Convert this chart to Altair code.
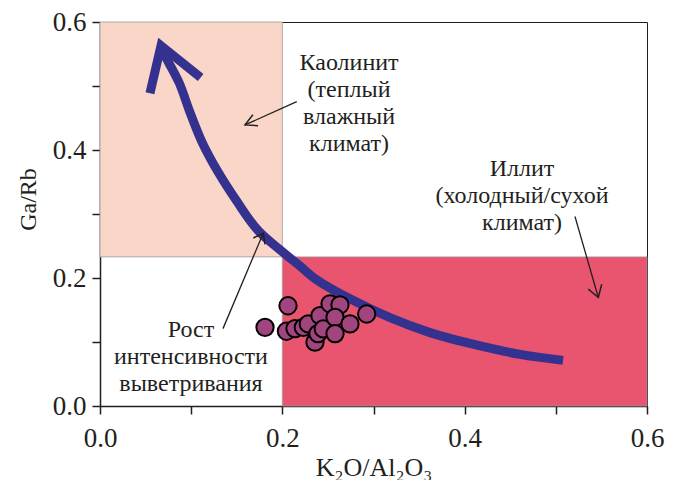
import altair as alt
import pandas as pd

FONT = "Liberation Serif"
TXT = "#231F20"

# Region boxes (data units)
reg_x = [0.0, 0.2]
reg_x2 = [0.2, 0.6]
reg_y = [0.233, 0.0]
reg_y2 = [0.6, 0.233]
reg_name = ["kaolinite", "illite"]
reg_color = ["#F9D6C8", "#E9546F"]

# Samples
pt_x = [0.1810, 0.2062, 0.2045, 0.2139, 0.2230, 0.2285, 0.2358, 0.2391, 0.2413,
        0.2449, 0.2523, 0.2632, 0.2578, 0.2742, 0.2578, 0.2925]
pt_y = [0.1229, 0.1566, 0.1168, 0.1209, 0.1229, 0.1282, 0.0997, 0.1132, 0.1411,
        0.1204, 0.1597, 0.1581, 0.1384, 0.1282, 0.1132, 0.1437]

# Weathering trend curve
cv_x = [0.5079, 0.4607, 0.4058, 0.3620, 0.3181, 0.2742, 0.2380, 0.2194, 0.2007,
        0.1733, 0.1503, 0.1294, 0.1119, 0.0987, 0.0867, 0.0735, 0.0691]
cv_y = [0.0713, 0.0806, 0.0977, 0.1147, 0.1380, 0.1674, 0.1969, 0.2186, 0.2403,
        0.2744, 0.3194, 0.3659, 0.4124, 0.4589, 0.5054, 0.5411, 0.5519]

# Big arrow head (left arm, tip, right arm)
ah_x = [0.0548, 0.0669, 0.1104]
ah_y = [0.4888, 0.5628, 0.5132]

# Thin annotation arrows: shaft start, tip
an_id = ["kao", "ill", "ros"]
an_x0 = [0.2158, 0.5210, 0.1349]
an_y0 = [0.4755, 0.2961, 0.1209]
an_x1 = [0.1590, 0.5466, 0.1791]
an_y1 = [0.4392, 0.1695, 0.2702]
# arrow-head arms
arm1_x = [0.1733, 0.5356, 0.1682]
arm1_y = [0.4380, 0.1825, 0.2625]
arm2_x = [0.1677, 0.5503, 0.1810]
arm2_y = [0.4552, 0.1902, 0.2527]

# Labels (position = first line)
lab_text = ["Каолинит\n(теплый\nвлажный\nклимат)",
            "Иллит\n(холодный/сухой\nклимат)",
            "Рост\nинтенсивности\nвыветривания"]
lab_x = [0.2732, 0.4629, 0.0998]
lab_y = [0.5364, 0.3705, 0.1194]

x_ticks = [0.0, 0.1, 0.2, 0.3, 0.4, 0.5, 0.6]
y_ticks = [0.0, 0.1, 0.2, 0.3, 0.4, 0.5, 0.6]

regions = pd.DataFrame({"x": reg_x, "x2": reg_x2, "y": reg_y, "y2": reg_y2, "name": reg_name})
pts = pd.DataFrame({"x": pt_x, "y": pt_y})
curve = pd.DataFrame({"x": cv_x, "y": cv_y, "o": list(range(len(cv_x)))})
head = pd.DataFrame({"x": ah_x, "y": ah_y, "o": [0, 1, 2]})

shaft_rows, headrow = [], []
for i, k in enumerate(an_id):
    shaft_rows += [{"id": k, "x": an_x0[i], "y": an_y0[i], "o": 0},
                   {"id": k, "x": an_x1[i], "y": an_y1[i], "o": 1}]
    headrow += [{"id": k, "x": arm1_x[i], "y": arm1_y[i], "o": 0},
                {"id": k, "x": an_x1[i], "y": an_y1[i], "o": 1},
                {"id": k, "x": arm2_x[i], "y": arm2_y[i], "o": 2}]
shafts = pd.DataFrame(shaft_rows)
heads = pd.DataFrame(headrow)
labels = pd.DataFrame({"t": lab_text, "x": lab_x, "y": lab_y})

xs = alt.Scale(domain=[0, 0.6], nice=False, zero=False)
ys = alt.Scale(domain=[0, 0.6], nice=False, zero=False)

lbl_expr = "round(datum.value*10) % 2 == 0 ? format(datum.value, '.1f') : ''"

X = alt.X("x:Q", scale=xs, title="K₂O/Al₂O₃",
          axis=alt.Axis(values=x_ticks, labelExpr=lbl_expr, grid=False,
                        tickSize=8, tickColor="#231F20", domainColor="#231F20",
                        domainWidth=1.5, tickWidth=1.5, labelFont=FONT, labelFontSize=27,
                        labelColor=TXT, labelPadding=11, titleFont=FONT, titleFontSize=26,
                        titleColor=TXT, titleFontWeight="normal", titlePadding=3,
                        labelFlush=False))
Y = alt.Y("y:Q", scale=ys, title="Ga/Rb",
          axis=alt.Axis(values=y_ticks, labelExpr=lbl_expr, grid=False,
                        tickSize=8, tickColor="#231F20", domainColor="#231F20",
                        domainWidth=1.5, tickWidth=1.5, labelFont=FONT, labelFontSize=27,
                        labelColor=TXT, labelPadding=6, titleFont=FONT, titleFontSize=24,
                        titleColor=TXT, titleFontWeight="normal", titlePadding=12,
                        titleY=177, labelFlush=False))

rects = alt.Chart(regions).mark_rect(stroke="#9a9a9a", strokeWidth=0.8).encode(
    x=X, x2="x2:Q", y=Y, y2="y2:Q",
    color=alt.Color("name:N", scale=alt.Scale(domain=reg_name, range=reg_color), legend=None),
)

curve_l = alt.Chart(curve).mark_line(color="#35318F", strokeWidth=9, strokeCap="butt",
                                     interpolate="catmull-rom").encode(
    x="x:Q", y="y:Q", order="o:Q")
head_l = alt.Chart(head).mark_line(color="#35318F", strokeWidth=9, strokeCap="butt",
                                   strokeJoin="miter").encode(
    x="x:Q", y="y:Q", order="o:Q")

shaft_l = alt.Chart(shafts).mark_line(color="#231F20", strokeWidth=1.3).encode(
    x="x:Q", y="y:Q", detail="id:N", order="o:Q")
heads_l = alt.Chart(heads).mark_line(color="#231F20", strokeWidth=1.5, strokeJoin="miter").encode(
    x="x:Q", y="y:Q", detail="id:N", order="o:Q")

points = alt.Chart(pts).mark_point(shape="circle", filled=True, size=300, fill="#A2457F",
                                   stroke="black", strokeWidth=2, opacity=1).encode(
    x="x:Q", y="y:Q")

texts = alt.Chart(labels).mark_text(font=FONT, fontSize=24, color=TXT, lineBreak="\n",
                                    lineHeight=27, align="center", baseline="middle").encode(
    x="x:Q", y="y:Q", text="t:N")

chart = alt.layer(rects, curve_l, head_l, shaft_l, heads_l, points, texts).properties(
    width=547, height=384,
    autosize=alt.AutoSizeParams(type="none"),
    padding={"left": 92, "top": 14, "right": 23, "bottom": 74},
).configure_view(stroke="#231F20", strokeWidth=1)

chart.save("out.html", embed_options={"renderer": "svg", "actions": False})
